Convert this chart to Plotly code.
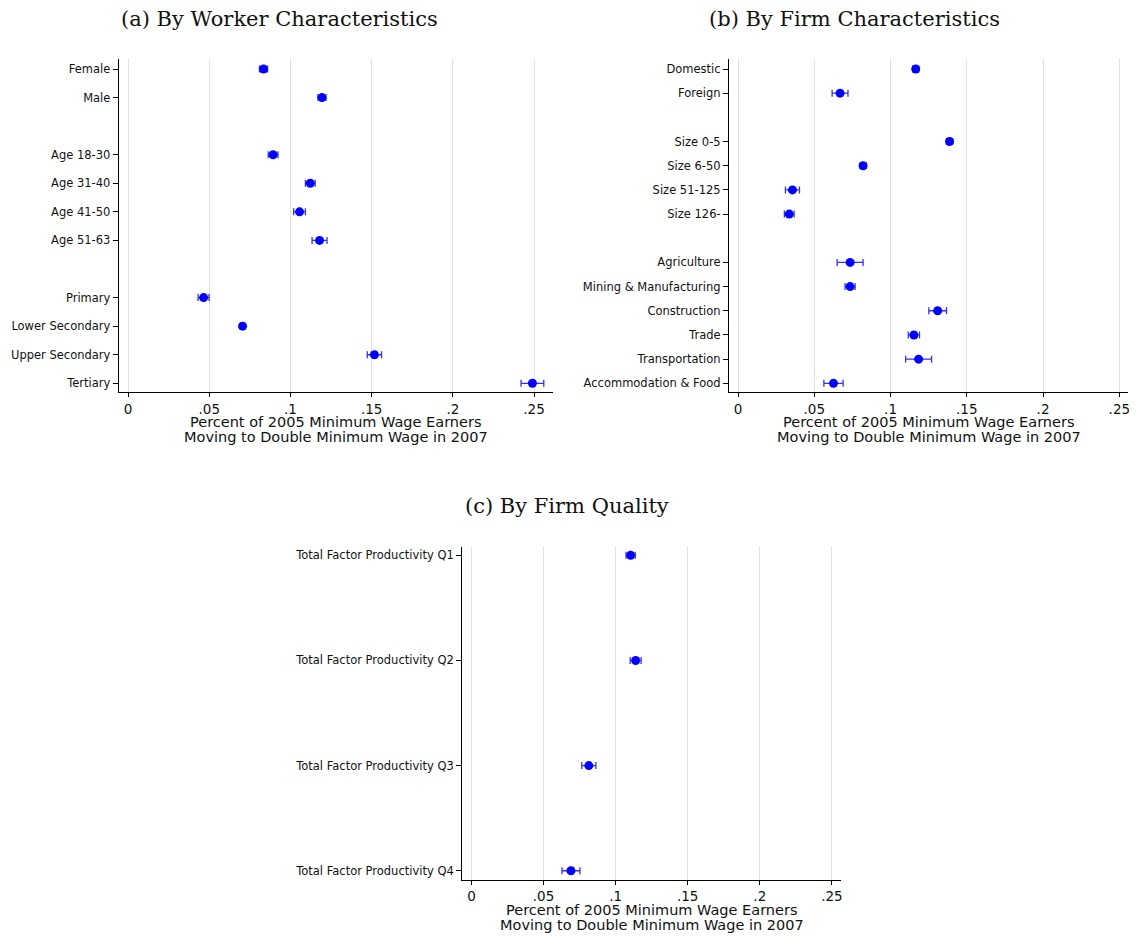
import plotly.graph_objects as go

# ---- Data ----
a_labels = ["Female", "Male", "Age 18-30", "Age 31-40", "Age 41-50", "Age 51-63",
            "Primary", "Lower Secondary", "Upper Secondary", "Tertiary"]
a_pos = [1, 2, 4, 5, 6, 7, 9, 10, 11, 12]
a_vals = [0.0834, 0.1194, 0.0893, 0.1122, 0.1056, 0.1179, 0.0465, 0.0705, 0.1517, 0.2490]
a_errs = [0.0025, 0.0025, 0.0030, 0.0030, 0.0036, 0.0046, 0.0034, 0.0015, 0.0044, 0.0070]

b_labels = ["Domestic", "Foreign", "Size 0-5", "Size 6-50", "Size 51-125", "Size 126-",
            "Agriculture", "Mining & Manufacturing", "Construction", "Trade",
            "Transportation", "Accommodation & Food"]
b_pos = [1, 2, 4, 5, 6, 7, 9, 10, 11, 12, 13, 14]
b_vals = [0.1165, 0.0669, 0.1387, 0.0820, 0.0357, 0.0336, 0.0735, 0.0735, 0.1309,
          0.1153, 0.1184, 0.0626]
b_errs = [0.0020, 0.0052, 0.0020, 0.0020, 0.0046, 0.0032, 0.0085, 0.0033, 0.0058,
          0.0037, 0.0085, 0.0063]

c_labels = ["Total Factor Productivity Q1", "Total Factor Productivity Q2",
            "Total Factor Productivity Q3", "Total Factor Productivity Q4"]
c_pos = [1, 2, 3, 4]
c_vals = [0.1104, 0.1139, 0.0814, 0.0690]
c_errs = [0.0032, 0.0038, 0.0049, 0.0062]

x_ticks = [0, 0.05, 0.1, 0.15, 0.2, 0.25]
x_ticktext = ["0", ".05", ".1", ".15", ".2", ".25"]

titles = ["(a) By Worker Characteristics", "(b) By Firm Characteristics", "(c) By Firm Quality"]
xtitle1 = "Percent of 2005 Minimum Wage Earners"
xtitle2 = "Moving to Double Minimum Wage in 2007"

# page body has an 8px default margin; the figure starts at (8, 8) in the window
OFF = 8
W, H = 1137 - OFF, 936 - OFF

def px(x):
    return min(max((x - OFF) / W, 0.0), 1.0)

def py(y):
    return min(max(1 - (y - OFF) / H, 0.0), 1.0)

panels = [
    # (labels, pos, vals, errs, x-domain px, y-domain px, xrange, yrange)
    (a_labels, a_pos, a_vals, a_errs, (119, 554), (59.3, 392.3), [-0.00572, 0.2617], [12.315, 0.66]),
    (b_labels, b_pos, b_vals, b_errs, (730.3, 1130), (59.3, 392.3), [-0.00589, 0.2557], [14.372, 0.599]),
    (c_labels, c_pos, c_vals, c_errs, (463, 842.3), (546.7, 880), [-0.00644, 0.2562], [4.088, 0.918]),
]

fig = go.Figure()
annotations = []
layout = {}
title_pos = [(280, 19), (856, 19), (567.5, 506)]

for i, (labs, pos, vals, errs, xd, yd, xr, yr) in enumerate(panels):
    n = i + 1
    xa = "x" if n == 1 else f"x{n}"
    ya = "y" if n == 1 else f"y{n}"
    fig.add_trace(go.Scatter(
        x=vals, y=pos, mode="markers", xaxis=xa, yaxis=ya,
        marker=dict(color="#0000ff", size=9, symbol="circle"),
        error_x=dict(type="data", array=errs, visible=True, color="#3030ff",
                     thickness=1.3, width=3.5),
        showlegend=False, hoverinfo="x+y",
    ))
    xkey = "xaxis" if n == 1 else f"xaxis{n}"
    ykey = "yaxis" if n == 1 else f"yaxis{n}"
    layout[xkey] = dict(
        domain=[px(xd[0]), px(xd[1])], range=xr, anchor=ya,
        tickvals=x_ticks, ticktext=x_ticktext, ticks="outside", ticklen=4,
        tickcolor="black", tickwidth=1, showline=True, linecolor="black", linewidth=1.2,
        showgrid=True, gridcolor="#e0e0e0", gridwidth=1, zeroline=False,
        tickfont=dict(family="DejaVu Sans", size=13.5, color="#111"),
        fixedrange=True,
    )
    layout[ykey] = dict(
        domain=[py(yd[1]), py(yd[0])], range=yr, anchor=xa,
        tickvals=pos, ticktext=labs, ticks="outside", ticklen=5,
        tickcolor="black", tickwidth=1, showline=True, linecolor="black", linewidth=1.2,
        showgrid=False, zeroline=False,
        tickfont=dict(family="DejaVu Sans", size=11.5, color="#111"),
        fixedrange=True,
    )
    cx = (xd[0] + xd[1]) / 2
    annotations.append(dict(text=xtitle1, x=px(cx), y=py(yd[1] + 29.5), xref="paper", yref="paper",
                            showarrow=False, xanchor="center", yanchor="middle",
                            font=dict(family="DejaVu Sans", size=14.5, color="#111")))
    annotations.append(dict(text=xtitle2, x=px(cx), y=py(yd[1] + 45), xref="paper", yref="paper",
                            showarrow=False, xanchor="center", yanchor="middle",
                            font=dict(family="DejaVu Sans", size=14.5, color="#111")))
    tx, ty = title_pos[i]
    annotations.append(dict(text=titles[i], x=px(tx), y=py(ty), xref="paper", yref="paper",
                            showarrow=False, xanchor="center", yanchor="middle",
                            font=dict(family="DejaVu Serif", size=21, color="#111")))

fig.update_layout(
    width=W, height=H, margin=dict(l=0, r=0, t=0, b=0),
    paper_bgcolor="white", plot_bgcolor="white",
    annotations=annotations, **layout,
)

fig.write_html("out.html", config={"displayModeBar": False})
